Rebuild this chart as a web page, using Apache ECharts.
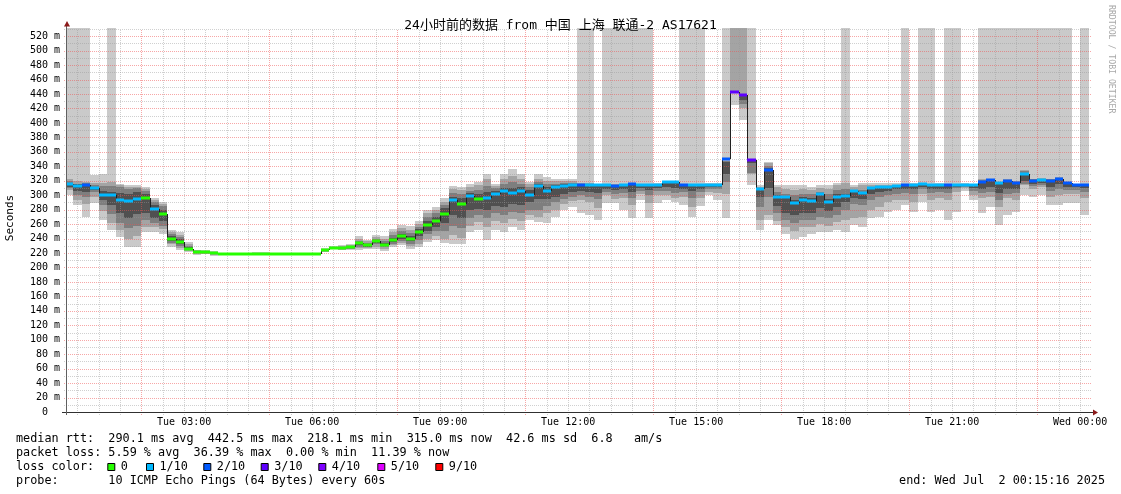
<!DOCTYPE html>
<html><head><meta charset="utf-8">
<script src="https://cdn.jsdelivr.net/npm/echarts@6/dist/echarts.min.js"></script>
<style>html,body{margin:0;padding:0;background:#fff}#c{width:1121px;height:494px}</style>
</head><body><div id="c"></div>
<script>
// ---------------- data ----------------
const X_MIN = 15 + 16/60;          // Tue 00:15:16 in minutes
const X_MAX = X_MIN + 1440;        // Wed 00:15:16
const Y_MAX = 530;
const FIRST_STEP = 12;             // first consolidated step starts 00:12
const STEP_MIN = 12;               // 12-minute steps

const median = [315.3,313.0,314.4,310.2,300.6,300.6,292.7,291.3,294.1,296.0,
281.2,273.4,239.3,235.1,225.4,220.8,220.8,219.4,218.4,218.4,
218.4,218.1,218.9,218.9,218.2,218.1,218.2,218.1,218.2,218.1,
223.6,227.2,227.5,228.2,233.3,230.5,236.5,231.4,237.4,242.9,
239.3,248.9,258.2,264.1,274.3,292.7,287.7,299.2,294.6,296.4,
301.0,305.6,303.3,305.6,300.6,313.0,306.0,310.7,313.0,314.4,
314.4,314.4,314.4,314.4,312.5,314.4,314.9,314.4,314.4,314.4,
317.6,317.6,314.4,314.4,314.4,314.4,314.4,350.4,442.5,439.3,
348.5,308.4,334.2,297.8,297.8,289.5,293.2,291.4,301.9,290.9,
297.8,298.7,306.0,303.3,309.8,311.2,311.2,313.0,314.4,314.4,
315.3,314.4,314.4,314.4,314.4,314.4,314.4,317.6,320.4,316.3,
319.5,316.3,329.2,319.5,320.4,319.5,322.2,316.3,314.4,314.4];

const lossIdx = [1,1,2,1,1,1,1,1,1,0,
1,0,0,0,0,0,0,0,0,0,
0,0,0,0,0,0,0,0,0,0,
0,0,0,0,0,0,0,0,0,0,
0,0,0,0,0,1,0,1,0,1,
1,1,1,1,1,1,1,1,1,1,
2,1,1,1,2,1,2,1,1,1,
1,1,2,1,1,1,1,2,3,3,
3,1,2,1,1,1,1,1,1,1,
1,1,1,1,1,1,1,1,2,1,
1,1,1,2,1,1,1,2,2,1,
2,2,1,2,1,2,2,2,2,2];

// smoke bands (null = lost pings, band reaches top of graph)
const lo1 = [300,286,270,289,265.5,252,242,229,229,249,
249,247,229,224,221.5,217.5,218.5,216.5,216.8,216.8,
216.8,216.6,217.2,217.2,216.6,216.6,216.6,216.6,216.6,216.6,
221.5,225,223.5,224,224,225,226,223,228,231,
226,228,235.5,238,234,232,232,249,252,238,
252,249,256,252,265.5,263,261,270,279,284,
276,272,265.5,288.6,288.6,279,268,293,268,289,
293,290,286,270,285,300,293,268,424.6,404,
314,251.7,265.5,258.6,247,240,242.4,247,249.4,249,
251.7,249.4,258.6,256.3,267.9,270,277,279.4,286.3,277,
290.8,277,280,265.5,277,306,293.2,274.8,283.9,258.6,
272.4,277,300,298,300,286.3,286,288.6,288.6,272];
const hi1 = [null,null,null,328,330,null,316,314,314,312,
296,291,252,249,235.5,224.5,224,222.5,220.2,220.2,
220.2,219.8,220.8,220.8,219.8,219.8,219.8,219.8,219.8,219.8,
226.5,229.5,231,233,243,238,245,243,253,259,
257,264,279,284,295.5,312.5,311,315,318.5,329,
316,330,335.6,330,318.5,330,325.5,323,323,322,
null,null,316,null,null,null,null,null,null,316.5,
319,319,null,null,null,316.5,316.5,null,null,null,
null,314,346,314,314,314,314,311.6,314,314,
316.3,null,314,316.3,316.3,316.3,316.3,316.3,null,316.3,
null,null,316.3,null,null,316.3,316,null,null,null,
null,null,null,null,null,null,null,null,316,null];
const lo2 = [307,293,288,298,278,262,252,240,243,256,
256,253,232,227,222.5,218.5,219,217.5,217.3,217.3,
217.3,217.1,217.8,217.8,217.1,217.1,217.1,217.1,217.1,217.1,
222,225.5,224.5,225,227,226.5,229,226,231,234,
230,233,240,243,240,245,241,258,263,256,
265,262,267,264,272,270,275,280,288,292,
293,290,282,300,295,296,286,301,289,300,
300,296,297,284,296,305,303,302,441,420,
329,265.5,272,265,256,251,256,256,260,258,
263,265.5,268,270,279,284,290,293,293,290,
302,293,296,293,305,310,300,295.5,297,284,
296,294,313.9,309,311,297,300,302,302,296];
const hi2 = [322,319,318,317,317,318,314,312,312,309,
293,288,249,245,233,223.5,223,221.5,219.6,219.6,
219.6,219.2,220.1,220.1,219.2,219.2,219.2,219.2,219.2,219.2,
225.5,229,230,231.5,240,236,242,240,249,255,
252,260,275,279,291,309,307,311,314,322,
313,322,326,323,316,322,320,319,320,319,
317,317,315.5,316,315,316,317,316,316,316,
318.5,318.5,316,316,316,316,316,348,null,null,
350,312,344,311.6,309,307,309,307,309.4,309,
314,316.3,311.6,314,314,314,314,314.5,316,316,
316.5,316,316,316,316,316,315.5,323,323,318,
323,319,334.7,323,324,323,325,318,315.5,316];
const lo3 = [310,300,297,304,286,274,261,254,257,266,
262,258,234,230,223.5,219.5,219.8,218.3,217.8,217.8,
217.8,217.5,218.3,218.3,217.5,217.5,217.5,217.5,217.5,217.5,
222.5,226,225.5,226,229,228,232,228,233,237,
233,238,246,250,250,258,255,268,272,268,
275,272,277,275,280,280,285,290,295,298,
300,298,295,305,302,303,296,306,300,306,
306,303,304,296,304,309,308,318,441,426,
331,284,298,276,266,261,266,266,270,268,
273,279,288,286,293,297,300,302,303,302,
309,303,305,303,310,312,306,303,305,293,
302,303,316,313,314,306,309,307,307,305];
const hi3 = [319,316,317,314,313,313,311,309,310,306,
290,285,246,242,230,222.5,222.2,220.6,219.1,219.1,
219.1,218.8,219.6,219.6,218.8,218.8,218.8,218.8,218.8,218.8,
225,228.5,229,230,237,234,240,237,245,250,
248,256,270,275,287,303,302,306,307,313,
310,315,318,316,312,318,316,316,317,317,
316,316,315,315.5,314,315.5,316,315.5,315.5,315.5,
318,318,315.5,315.5,315.5,315.5,315.5,347,444,440,
349.5,310,340,305,302,300,302,302,305,302,
307,309,307,307,311.6,312.5,312.5,314,315.5,315.5,
316,315.5,315.5,315.5,315.5,315.5,315.3,321,322,317,
321,318,333,322,323,322,324,317.5,315.2,315.5];
const lo4 = [312,306,305,307,294,286,276,268,274,276,
268,264,236,232,224.5,220,220.2,218.8,218.1,218.1,
218.1,217.8,218.6,218.6,217.8,217.8,217.8,217.8,217.8,217.8,
223,226.5,226,227,231,229,234,229.5,235,240,
236,243,251,256,261,272,268,280,281,280,
285,284,288,287,290,295,295,298,302,304,
306,305,303,309,307,309,305,310,307,310,
311,310,309,306,309,311,311,330,441.5,432,
345,297,310,285,276,272,276,276,282,278,
283,290,296,295,302,305,306,308,309,308,
312,309,309,309,312,313,310,309,312,303,
309,309,320,316,317,312,315,311,311,310];
const hi4 = [317,315,316,312,306,305,303,302,304,302,
286,280,243,239,228,221.8,221.5,220,218.8,218.8,
218.8,218.5,219.3,219.3,218.5,218.5,218.5,218.5,218.5,218.5,
224.5,228,228.5,229,235.5,232,238.5,234,241,247,
244,253,265,270,282,298,296,303,301,304,
306,310,310,311,307,316,311,314,315,316,
315.5,315.5,315,315,313.5,315,316,315,315,315,
318,318,315,315,315,315,315,346,443.5,439,
350,309.5,338,300,299,294,297,296,303,295,
301,302,307,305,311,312,312,313.8,315,315,
316,315,315,315,315,315,315,320,321.5,317,
320.5,317.5,331,321,322,321,323.5,317,315,315];

const lossColors = ['#26ff00','#00b8ff','#0059ff','#5e00ff','#7e00ff','#dd00ff','#ff0000'];
const lossLabels = ['0','1/10','2/10','3/10','4/10','5/10','9/10'];
const smokeColors = ['#cacaca','#a4a4a4','#7e7e7e','#505050'];

const timeTicks = [180,360,540,720,900,1080,1260,1440];
const timeTickLabels = ['Tue 03:00','Tue 06:00','Tue 09:00','Tue 12:00','Tue 15:00','Tue 18:00','Tue 21:00','Wed 00:00'];
const vGridMajor = [120,300,480,660,840,1020,1200,1380];
const vGridMinor = [30,60,90,150,180,210,240,270,330,360,390,420,450,510,540,570,600,630,690,720,750,780,810,870,900,930,960,990,1050,1080,1110,1140,1170,1230,1260,1290,1320,1350,1410,1440];
const hGridMajor = [20,40,60,80,100,120,140,160,180,200,220,240,260,280,300,320,340,360,380,400,420,440,460,480,500,520];
const hGridMinor = [10,30,50,70,90,110,130,150,170,190,210,230,250,270,290,310,330,350,370,390,410,430,450,470,490,510,530];

const rttStats = ['290.1','442.5','218.1','315.0','42.6'];
const rttAmS = '6.8';
const lossStats = ['5.59','36.39','0.00','11.39'];
const probeText = '10 ICMP Echo Pings (64 Bytes) every 60s';
const endText = 'end: Wed Jul  2 00:15:16 2025';
const titleText = '24小时前的数据 from 中国 上海 联通-2 AS17621';

// ---------------- build ----------------
const FONT = "'DejaVu Sans Mono','Noto Sans CJK SC',monospace";
const topOr = v => (v === null ? Y_MAX : v);
const smokeData = median.map((m, k) => {
  const t0 = FIRST_STEP + STEP_MIN * k, t1 = t0 + STEP_MIN;
  return [t0, t1, lo1[k], topOr(hi1[k]), lo2[k], topOr(hi2[k]), lo3[k], topOr(hi3[k]), lo4[k], topOr(hi4[k])];
});
const medData = median.map((m, k) => {
  const t0 = FIRST_STEP + STEP_MIN * k, t1 = t0 + STEP_MIN;
  return [t0, t1, m, k > 0 ? median[k - 1] : m, lossIdx[k]];
});

function smokeItem(params, api) {
  const t0 = Math.max(api.value(0), X_MIN), t1 = Math.min(api.value(1), X_MAX);
  const xa = Math.round(api.coord([t0, 0])[0]), xb = Math.round(api.coord([t1, 0])[0]);
  const children = [];
  for (let b = 0; b < 4; b++) {
    const lo = api.value(2 + 2 * b), hi = api.value(3 + 2 * b);
    const yl = Math.round(api.coord([t0, lo])[1]), yh = Math.round(api.coord([t0, hi])[1]);
    if (yl - yh < 1) continue;
    children.push({type: 'rect', shape: {x: xa, y: hi >= Y_MAX ? yh - 1 : yh, width: xb - xa, height: yl - yh + (hi >= Y_MAX ? 1 : 0)}, style: {fill: smokeColors[b]}});
  }
  return {type: 'group', children};
}
function medItem(params, api) {
  const t0 = Math.max(api.value(0), X_MIN), t1 = Math.min(api.value(1), X_MAX);
  const m = api.value(2), prev = api.value(3), li = api.value(4);
  const xa = Math.round(api.coord([t0, m])[0]), xb = Math.round(api.coord([t1, m])[0]);
  const y = Math.round(api.coord([t0, m])[1]);
  const yp = Math.round(api.coord([t0, prev])[1]);
  const children = [];
  if (yp !== y) {
    children.push({type: 'line', shape: {x1: xa + 0.5, y1: yp, x2: xa + 0.5, y2: y}, style: {stroke: '#202020', lineWidth: 1}});
  }
  children.push({type: 'rect', shape: {x: xa, y: y - 1.5, width: xb - xa, height: 3}, style: {fill: lossColors[li]}});
  return {type: 'group', children};
}
function vGridItem(color) {
  return function (params, api) {
    const v = api.value(0);
    const p0 = api.coord([v, 0]), p1 = api.coord([v, Y_MAX]);
    const x = Math.round(p0[0]) + 0.5;
    return {type: 'line', shape: {x1: x, y1: p0[1] + 3, x2: x, y2: p1[1]},
      style: {stroke: color, lineWidth: 1, lineDash: [1, 1]}};
  };
}
function hGridItem(color) {
  return function (params, api) {
    const v = api.value(0);
    const p0 = api.coord([X_MIN, v]), p1 = api.coord([X_MAX, v]);
    const y = Math.round(p0[1]) + 0.5;
    return {type: 'line', shape: {x1: p0[0] - 3, y1: y, x2: p1[0], y2: y},
      style: {stroke: color, lineWidth: 1, lineDash: [1, 1]}};
  };
}
const MINOR = 'rgba(150,150,150,0.45)';
const MAJOR = 'rgba(240,80,80,0.5)';

// legend graphics
const LEG_FS = 11.8;
const txt = (x, y, s, extra) => Object.assign({type: 'text', x, y, silent: true,
  style: Object.assign({text: s, fontFamily: FONT, fontSize: LEG_FS, fill: '#000', align: 'left', verticalAlign: 'middle'}, extra || {})});
const line1 = 'median rtt:  ' + rttStats[0] + ' ms avg  ' + rttStats[1] + ' ms max  ' + rttStats[2] + ' ms min  ' +
  rttStats[3] + ' ms now  ' + rttStats[4] + ' ms sd  ' + rttAmS + '   am/s';
const line2 = 'packet loss: ' + lossStats[0] + ' % avg  ' + lossStats[1] + ' % max  ' + lossStats[2] + ' % min  ' + lossStats[3] + ' % now';
const lossKeyX = [107.3, 146, 203.3, 260.7, 318.3, 377.3, 435.3];
const graphics = [
  txt(16, 439, line1), txt(16, 453, line2), txt(16, 467, 'loss color:'),
  txt(16, 481, 'probe:       ' + probeText),
  txt(1105, 481, endText, {align: 'right'}),
  {type: 'text', x: 10, y: 218, rotation: Math.PI / 2, silent: true,
    style: {text: 'Seconds', fontFamily: FONT, fontSize: 11, fill: '#000', align: 'center', verticalAlign: 'middle'}},
  {type: 'text', x: 1111.5, y: 5, rotation: -Math.PI / 2, silent: true,
    style: {text: 'RRDTOOL / TOBI OETIKER', fontFamily: FONT, fontSize: 8.2, fill: '#a8a8a8', align: 'left', verticalAlign: 'middle'}},
  // axis extensions and arrows
  {type: 'line', silent: true, shape: {x1: 62, y1: 412.5, x2: 1094, y2: 412.5}, style: {stroke: '#303030', lineWidth: 1}, z: 20},
  {type: 'line', silent: true, shape: {x1: 66.5, y1: 415, x2: 66.5, y2: 25}, style: {stroke: '#606060', lineWidth: 1}, z: 20},
  {type: 'polygon', silent: true, shape: {points: [[64, 26.5], [70, 26.5], [67, 21]]}, style: {fill: '#8c1a1a'}, z: 21},
  {type: 'polygon', silent: true, shape: {points: [[1093, 409.5], [1093, 415.5], [1098, 412.5]]}, style: {fill: '#8c1a1a'}, z: 21}
];
lossColors.forEach((c, i) => {
  graphics.push({type: 'rect', silent: true, shape: {x: lossKeyX[i] + 0.5, y: 463.5, width: 7, height: 7},
    style: {fill: c, stroke: '#000', lineWidth: 1}});
  graphics.push(txt(lossKeyX[i] + 13.5, 467, lossLabels[i]));
});

const chart = echarts.init(document.getElementById('c'), null, {renderer: 'canvas'});
chart.setOption({
  animation: false,
  backgroundColor: '#fff',
  title: {text: titleText, left: 'center', top: 14,
    textStyle: {fontFamily: FONT, fontSize: 13, fontWeight: 'normal', color: '#000'}},
  grid: {left: 67, right: 30, top: 29, bottom: 82, containLabel: false},
  xAxis: {type: 'value', min: X_MIN, max: X_MAX,
    splitLine: {show: false}, axisTick: {show: false},
    axisLine: {show: false},
    axisLabel: {customValues: timeTicks, formatter: v => timeTickLabels[timeTicks.indexOf(v)] || '',
      fontFamily: FONT, fontSize: 10, color: '#000', margin: 5, hideOverlap: false}},
  yAxis: {type: 'value', min: 0, max: Y_MAX, interval: 20,
    splitLine: {show: false}, axisTick: {show: false}, axisLine: {show: false},
    axisLabel: {showMaxLabel: false, formatter: v => (v % 20 !== 0 ? '' : (v === 0 ? '0  ' : v + ' m')),
      fontFamily: FONT, fontSize: 10, color: '#000', margin: 7}},
  graphic: graphics,
  series: [
    {type: 'custom', name: 'smoke', renderItem: smokeItem, data: smokeData, z: 2, silent: true,
      encode: {x: [0, 1], y: [2, 3, 4, 5, 6, 7, 8, 9]}},
    {type: 'custom', name: 'vminor', renderItem: vGridItem(MINOR), data: vGridMinor.map(v => [v]), z: 3, silent: true, encode: {x: 0}},
    {type: 'custom', name: 'hminor', renderItem: hGridItem(MINOR), data: hGridMinor.map(v => [v]), z: 3, silent: true, encode: {y: 0}},
    {type: 'custom', name: 'vmajor', renderItem: vGridItem(MAJOR), data: vGridMajor.map(v => [v]), z: 4, silent: true, encode: {x: 0}},
    {type: 'custom', name: 'hmajor', renderItem: hGridItem(MAJOR), data: hGridMajor.map(v => [v]), z: 4, silent: true, encode: {y: 0}},
    {type: 'custom', name: 'median', renderItem: medItem, data: medData, z: 6, silent: true,
      encode: {x: [0, 1], y: [2, 3]}}
  ]
});
</script></body></html>
